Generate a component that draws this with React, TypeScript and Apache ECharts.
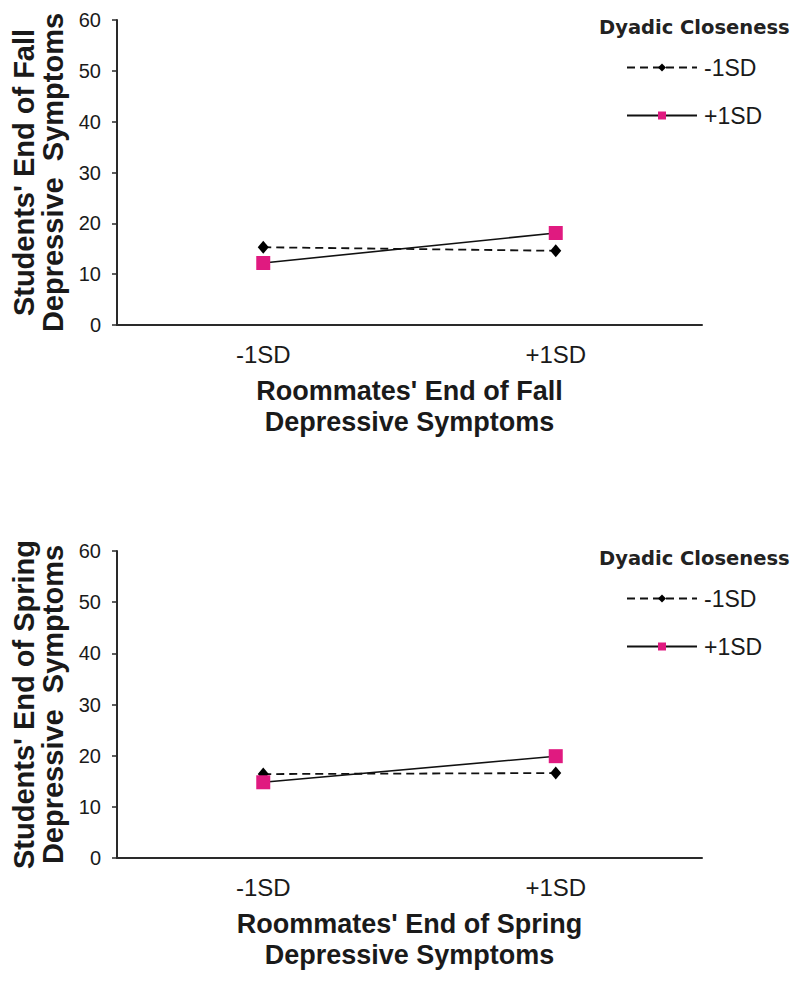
import React, { useEffect, useRef } from "react";
import * as echarts from "echarts";

const categories = ["-1SD", "+1SD"];
const seriesNames = ["-1SD", "+1SD"];
const fallMinus = [15.3, 14.6];
const fallPlus = [12.2, 18.1];
const springMinus = [16.4, 16.6];
const springPlus = [14.8, 19.9];
const yTitles = ["Students' End of Fall\nDepressive  Symptoms", "Students' End of Spring\nDepressive  Symptoms"];
const xTitles = ["Roommates' End of Fall\nDepressive Symptoms", "Roommates' End of Spring\nDepressive Symptoms"];
const legendTitle = "Dyadic Closeness";

const PINK = "#e01a80";
const INK = "#1a1a1a";
const FONT = "'Liberation Sans', Arial, sans-serif";

export default function App() {
  const ref = useRef<HTMLDivElement>(null);
  useEffect(() => {
    if (!ref.current) return;
    const chart = echarts.init(ref.current, null, { renderer: "svg" });
    const grids = [
      { left: 117, top: 20, width: 585, height: 305 },
      { left: 117, top: 551, width: 585, height: 307 },
    ];
    const mkX = (i: number) => ({
      type: "category",
      gridIndex: i,
      data: categories,
      boundaryGap: true,
      axisTick: { show: false },
      axisLine: { lineStyle: { color: "#2a2a2a", width: 2 } },
      axisLabel: { fontSize: 24, margin: 17, color: INK, fontFamily: FONT },
      name: xTitles[i],
      nameLocation: "middle",
      nameGap: 50,
      nameTextStyle: { fontSize: 27, fontWeight: "bold", lineHeight: 31, color: INK, fontFamily: FONT },
    });
    const mkY = (i: number) => ({
      type: "value",
      gridIndex: i,
      min: 0,
      max: 60,
      interval: 10,
      splitLine: { show: false },
      axisLine: { show: true, lineStyle: { color: "#2a2a2a", width: 2 } },
      axisTick: { show: true, inside: false, length: 5, lineStyle: { color: "#2a2a2a", width: 1.5 } },
      axisLabel: { fontSize: 20, margin: 16, color: INK, fontFamily: FONT },
      name: yTitles[i],
      nameLocation: "middle",
      nameGap: 48,
      nameTextStyle: { fontSize: 29, fontWeight: "bold", lineHeight: 29, color: INK, fontFamily: FONT },
    });
    const minusSeries = (i: number, data: number[]) => ({
      type: "line",
      name: seriesNames[0],
      xAxisIndex: i,
      yAxisIndex: i,
      data,
      symbol: "diamond",
      symbolSize: [11, 13],
      itemStyle: { color: "#000" },
      lineStyle: { color: "#111", width: 1.8, type: [8, 5] },
      z: 2,
    });
    const plusSeries = (i: number, data: number[]) => ({
      type: "line",
      name: seriesNames[1],
      xAxisIndex: i,
      yAxisIndex: i,
      data,
      symbol: "rect",
      symbolSize: 14,
      itemStyle: { color: PINK },
      lineStyle: { color: "#111", width: 1.6, type: "solid" },
      z: 3,
    });
    const mkLegend = (top: number) => ({
      orient: "vertical",
      left: 626,
      top,
      padding: 0,
      itemWidth: 70,
      itemHeight: 10,
      itemGap: 25,
      selectedMode: false,
      data: seriesNames,
      textStyle: { fontSize: 23, lineHeight: 22, color: INK, fontFamily: FONT, padding: [0, 0, 0, 2] },
    });
    chart.setOption({
      animation: false,
      backgroundColor: "#fff",
      textStyle: { fontFamily: FONT },
      grid: grids,
      xAxis: [mkX(0), mkX(1)],
      yAxis: [mkY(0), mkY(1)],
      legend: [mkLegend(56), mkLegend(587)],
      series: [
        minusSeries(0, fallMinus),
        plusSeries(0, fallPlus),
        minusSeries(1, springMinus),
        plusSeries(1, springPlus),
      ],
      graphic: [
        {
          type: "text",
          left: 599,
          top: 17,
          style: { text: legendTitle, fontSize: 19.5, fontWeight: "bold", fill: "#222", fontFamily: "'DejaVu Sans', sans-serif" },
        },
        {
          type: "text",
          left: 599,
          top: 548,
          style: { text: legendTitle, fontSize: 19.5, fontWeight: "bold", fill: "#222", fontFamily: "'DejaVu Sans', sans-serif" },
        },
      ],
    });
    return () => chart.dispose();
  }, []);
  return (
    <div
      ref={ref}
      style={{ position: "absolute", left: 0, top: 0, width: 800, height: 986, background: "#fff" }}
    />
  );
}
